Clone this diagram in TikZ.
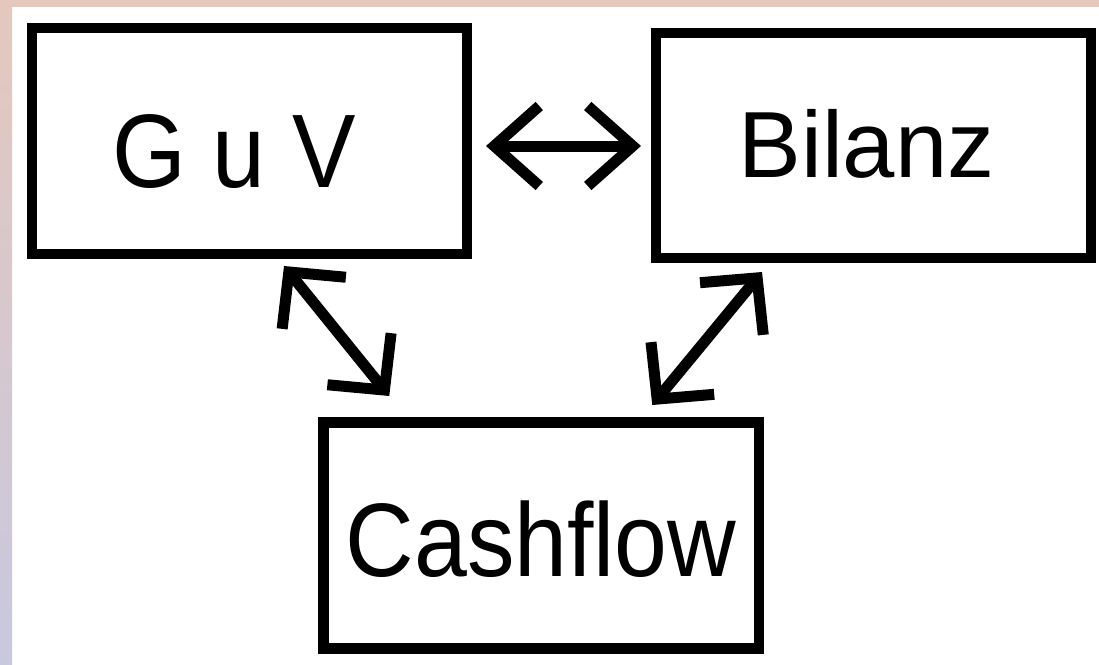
\documentclass[tikz,border=0pt]{standalone}
\usepackage{fontspec}
\setmainfont{Liberation Sans}
\usetikzlibrary{arrows.meta,calc}
\definecolor{bandtop}{RGB}{228,200,190}
\definecolor{bandmid}{RGB}{214,186,204}
\definecolor{bandbot}{RGB}{200,200,222}
\begin{document}
\begin{tikzpicture}[x=1pt,y=-1pt,
  box/.style={draw,line width=10.5pt,inner sep=0pt,outer sep=0pt,minimum width=435pt,minimum height=226pt},
  lbl/.style={anchor=base,inner sep=0pt},
  hbarb/.style={line width=11pt,{Straight Barb[length=45pt,width=80pt]}-{Straight Barb[length=45pt,width=80pt]}},
  dbarb/.style={line width=11pt,{Straight Barb[length=40pt,width=82pt]}-{Straight Barb[length=40pt,width=82pt]}}]
\useasboundingbox (0,0) rectangle (1099,664);
\fill[white] (0,0) rectangle (1099,664);
\shade[top color=bandtop,middle color=bandmid,bottom color=bandbot] (0,0) rectangle (12,664);
\fill[bandtop] (0,0) rectangle (1099,7);
% boxes
\node[box] (guv) at (249.5,141) {};
\node[box,minimum height=225pt] (bil) at (873.5,145.5) {};
\node[box,minimum width=435.5pt] (cash) at (541.25,535.5) {};
% labels
\node[lbl] (guvt) at (234,187.5) {\fontsize{95pt}{95pt}\selectfont\scalebox{1}[1.1]{G u V}};
\node[lbl] (bilt) at (866.5,177) {\fontsize{94pt}{94pt}\selectfont Bilanz};
\node[lbl] (casht) at (541,576) {\fontsize{95pt}{95pt}\selectfont\scalebox{1}[1.1]{Cashflow}};
% connectors
\draw[hbarb] ($(guv.east)+(19,5)$) -- ($(bil.west)+(-15,0.5)$);
\draw[dbarb] ($(guv.south)+(34.5,12)$) -- ($(cash.north)+(-152,-26.5)$);
\draw[dbarb] ($(bil.south)+(-111.5,14)$) -- ($(cash.north)+(111,-17.5)$);
\end{tikzpicture}
\end{document}
